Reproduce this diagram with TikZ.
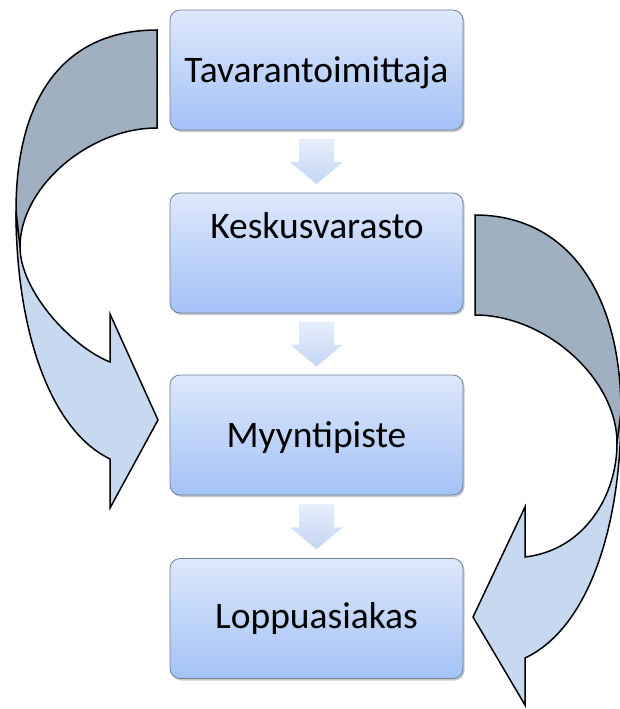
\documentclass[tikz,border=0pt]{standalone}
\usepackage{fontspec}
\setmainfont{Carlito}
\usetikzlibrary{shadows,calc}
\definecolor{boxtop}{HTML}{DDE8FC}
\definecolor{boxbot}{HTML}{A3C2F6}
\definecolor{boxline}{HTML}{6E7F96}
\definecolor{backband}{HTML}{9FB0C1}
\definecolor{frontband}{HTML}{C6D9F0}
\definecolor{arrtop}{HTML}{E6EEFB}
\definecolor{arrbot}{HTML}{C3D6F5}
\begin{document}
\begin{tikzpicture}[x=1pt,y=-1pt,
  box/.style={draw=boxline, line width=0.8pt, rounded corners=10pt,
    top color=boxtop, bottom color=boxbot,
    minimum width=293pt, minimum height=120pt, inner sep=0pt,
    drop shadow={opacity=0.3, shadow xshift=1.5pt, shadow yshift=-2pt, fill=black!70}},
  lbl/.style={anchor=base, font=\fontsize{37.5}{42}\selectfont, text=black, inner sep=0pt},
  band/.style={draw=black, line width=1.5pt, line join=miter},
  smallarrow/.style={top color=arrtop, bottom color=arrbot, draw=none}]
\useasboundingbox (0,0) rectangle (619,709);

% boxes
\node[box] (b1) at (316.5,70) {};
\node[box] (b2) at (316.5,253) {};
\node[box] (b3) at (316.5,435) {};
\node[box] (b4) at (316.5,618.5) {};

% labels
\node[lbl] (t1) at (316.5,82) {Tavarantoimittaja};
\node[lbl] (t2) at (317,238) {Keskusvarasto};
\node[lbl] (t3) at (316.5,447) {Myyntipiste};
\node[lbl] (t4) at (316.5,628) {Loppuasiakas};

% small down arrows between boxes
\foreach \a/\b in {b1/b2,b2/b3,b3/b4}{
  \shade[smallarrow] ($(\a.south)!0.5!(\b.north)$) ++(-17.5,-22.5)
    -- ++(35,0) -- ++(0,23) -- ++(9,0) -- ++(-26.5,22) -- ++(-26.5,-22)
    -- ++(9,0) -- cycle;
}

% left curved arrow: back part
\filldraw[band, fill=backband] (157,128) -- (157,30)
  .. controls (65,30) and (16,96) .. (16,211)
  -- (17,244) -- (20,247)
  .. controls (20,187.5) and (88.5,128) .. (157,128)
  -- cycle;
% left curved arrow: front part
\filldraw[band, fill=frontband] (16,211)
  .. controls (16,330) and (50,430) .. (110,459)
  -- (110,508) -- (158,420) -- (110,314) -- (110,362)
  .. controls (70,346) and (20,290) .. (20,247)
  -- cycle;

% right curved arrow: back part
\filldraw[band, fill=backband] (475,315) -- (475,215)
  .. controls (566,215) and (621,291) .. (621,412)
  -- (620,440) -- (617,443)
  .. controls (617,379) and (546,315) .. (475,315)
  -- cycle;
% right curved arrow: front part
\filldraw[band, fill=frontband] (621,412)
  .. controls (621,530) and (587,629) .. (525,658)
  -- (525,705) -- (473,617) -- (525,507) -- (525,557)
  .. controls (585,550) and (617,495) .. (617,443)
  -- cycle;
\end{tikzpicture}
\end{document}
